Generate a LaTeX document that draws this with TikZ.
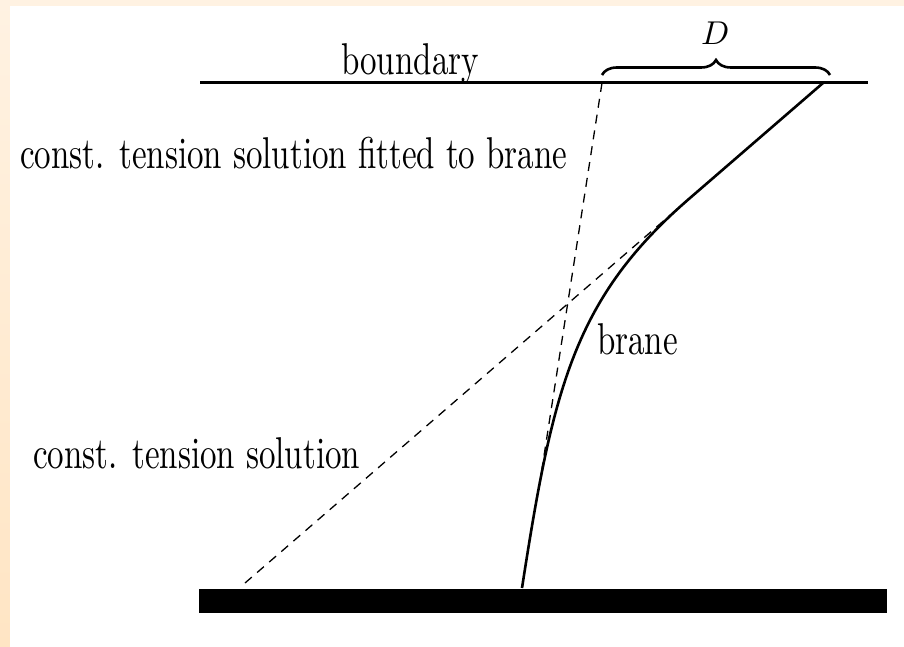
\documentclass[tikz,border=0pt]{standalone}
\usepackage{fontspec}
\usepackage{unicode-math}
\setmainfont{lmroman10-regular.otf}[ItalicFont=lmroman10-italic.otf, BoldFont=lmroman10-bold.otf]
\setmathfont{Latin Modern Math}
\usetikzlibrary{decorations.pathreplacing}
\definecolor{framebg}{HTML}{FFF2E2}
\definecolor{framebgb}{HTML}{FFE5C4}
\newcommand{\tallbox}[1]{\scalebox{1}[1.35]{#1}}
\begin{document}
\begin{tikzpicture}[x=1pt,y=-1pt,
  font=\fontsize{33}{40}\selectfont,
  lbl/.style={anchor=base west, inner sep=0pt},
  dashline/.style={dash pattern=on 9pt off 7pt, line width=1.3pt},
  braneline/.style={line width=2.6pt},
  edgeline/.style={line width=3pt},
  bracestyle/.style={decorate, decoration={brace, amplitude=15pt, aspect=0.5}, line width=2.6pt}]
% background frame
\shade[top color=framebg, bottom color=framebgb] (0,0) rectangle (904,647);
\fill[white] (10,6) rectangle (904,647);
\useasboundingbox (0,0) rectangle (904,647);
% key points
\coordinate (bL) at (200,83);
\coordinate (bR) at (868,83);
\coordinate (btop) at (823,83);
\coordinate (bbot) at (522,588);
\coordinate (k2) at (690,198);
\coordinate (f1top) at (602,83);
\coordinate (f1bot) at (541,475);
\coordinate (c2bot) at (245,583);
\coordinate (c2top) at (690,198);
\coordinate (brL) at (602,75);
\coordinate (brR) at (830,75);
% boundary
\draw[edgeline] (bL) -- (bR);
% floor
\fill[black] (199,589) rectangle (887,613);
% dashed solutions
\draw[dashline] (f1top) -- (f1bot);
\draw[dashline] (c2bot) -- (c2top);
% brane
\draw[braneline] (bbot) .. controls (553,388) and (574,298) .. (k2) -- (btop);
% brace
\draw[bracestyle] (brL) -- (brR);
% labels
\node[anchor=base, inner sep=0pt] (dlab) at (715,45) {$D$};
\node[lbl] (boundlab) at (341,75) {\tallbox{boundary}};
\node[lbl] (fitlab) at (20,168) {\tallbox{const.  tension solution fitted to brane}};
\node[lbl] (constlab) at (33,468) {\tallbox{const.  tension solution}};
\node[lbl] (branelab) at (597,354) {\tallbox{brane}};
\end{tikzpicture}
\end{document}
